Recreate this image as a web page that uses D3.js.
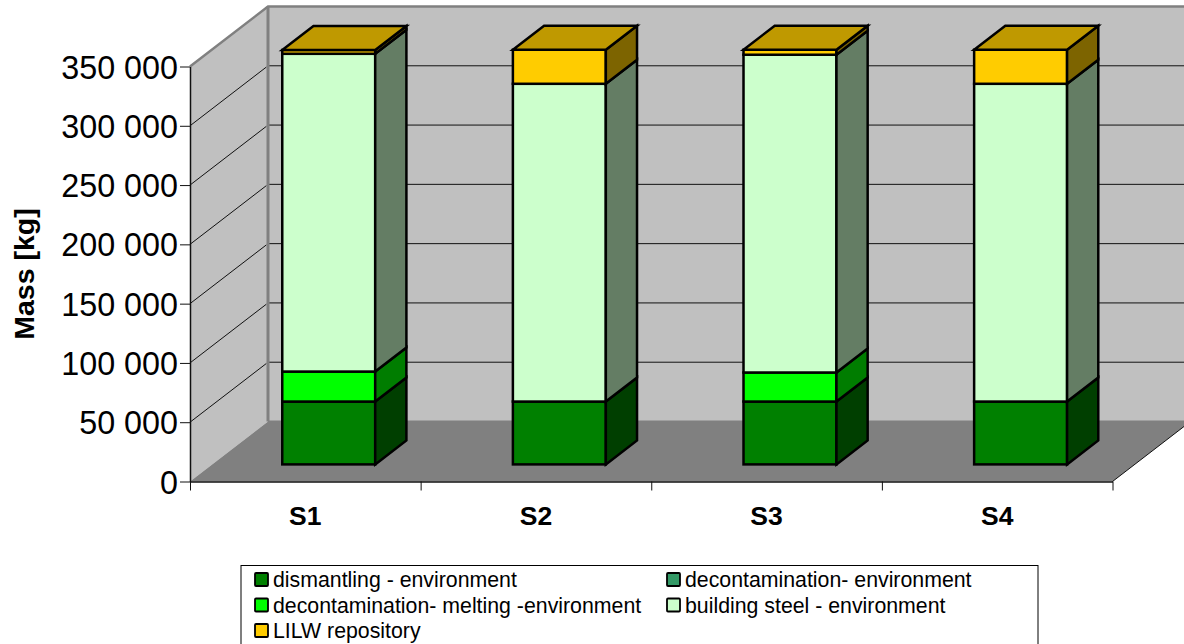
<!DOCTYPE html>
<html>
<head>
<meta charset="utf-8">
<title>Mass by scenario</title>
<script src="https://cdn.jsdelivr.net/npm/d3@7"></script>
<style>
  body { margin: 0; background: #fff; overflow: hidden; }
  svg { display: block; }
  text { font-family: "Liberation Sans", Arial, sans-serif; fill: #000; }
</style>
</head>
<body>
<svg id="chart" width="1184" height="644"></svg>
<script>
// values, in kg
var categories = ["S1", "S2", "S3", "S4"];
var dismantling = [53000, 53000, 53000, 53000];
var decontamination = [0, 0, 0, 0];
var melting = [25300, 0, 24500, 0];
var buildingSteel = [268000, 268000, 268000, 268000];
var lilw = [3200, 28700, 4200, 28700];
var yTicks = [0, 50000, 100000, 150000, 200000, 250000, 300000, 350000];

var seriesNames = [
  "dismantling - environment",
  "decontamination- environment",
  "decontamination- melting -environment",
  "building steel - environment",
  "LILW repository"
];
var seriesColors = ["#008000", "#339966", "#00ff00", "#ccffcc", "#ffcc00"];
var seriesValues = [dismantling, decontamination, melting, buildingSteel, lilw];

var svg = d3.select("#chart");

// plot box of the front plane, and how far the depth goes back
var left = 190, right = 1112.5, bottom = 481.5, top0 = 66.5;
var depthX = 78, depthY = -60;
var barFront = 0.29, barBack = 0.69;   // bar position in the depth of the floor

var x = d3.scaleBand().domain(categories).range([left, right]).paddingInner(0.597).paddingOuter(0.2985);
var xEdges = d3.scaleLinear().domain([0, categories.length]).range([left, right]);
var xLabels = d3.scaleBand().domain(categories).range([left, right]);
var y = d3.scaleLinear().domain([0, 350000]).range([bottom, top0]);

var fmt = d3.formatLocale({ decimal: ".", thousands: " ", grouping: [3], currency: ["", ""] }).format(",");

// move a point of the front plane back by d (0 to 1)
function px(xv, d) { return xv + depthX * d; }
function py(yv, d) { return yv + depthY * d; }

function poly(pts) {
  return pts.map(function(p) { return p[0] + "," + p[1]; }).join(" ");
}

// walls and floor
svg.append("polygon")
  .attr("points", poly([[px(left, 1), py(bottom, 1)], [px(right, 1) + 10, py(bottom, 1)], [px(right, 1) + 10, py(top0, 1)], [px(left, 1), py(top0, 1)]]))
  .attr("fill", "#c0c0c0");
svg.append("polygon")
  .attr("points", poly([[left, bottom], [px(left, 1), py(bottom, 1)], [px(left, 1), py(top0, 1)], [left, top0]]))
  .attr("fill", "#c0c0c0");
svg.append("polygon")
  .attr("points", poly([[left, bottom], [right, bottom], [px(right, 1), py(bottom, 1)], [px(left, 1), py(bottom, 1)]]))
  .attr("fill", "#808080");

// grid lines on the two walls
var grid = yTicks.filter(function(t) { return t > 0 && t < 350000; });
svg.append("g").selectAll("line.back")
  .data(grid).enter().append("line")
  .attr("x1", px(left, 1)).attr("x2", px(right, 1) + 10)
  .attr("y1", function(d) { return py(y(d), 1); })
  .attr("y2", function(d) { return py(y(d), 1); })
  .attr("stroke", "#111").attr("stroke-width", 1);
svg.append("g").selectAll("line.side")
  .data(grid).enter().append("line")
  .attr("x1", left).attr("x2", px(left, 0.98))
  .attr("y1", function(d) { return y(d); })
  .attr("y2", function(d) { return py(y(d), 0.98); })
  .attr("stroke", "#111").attr("stroke-width", 1);

// grey wall outline
var outline = svg.append("g").attr("stroke", "#808080").attr("stroke-width", 2.5).attr("fill", "none");
outline.append("polyline")
  .attr("points", poly([[left, top0], [px(left, 1), py(top0, 1)], [px(right, 1) + 10, py(top0, 1)]]));
outline.append("line")
  .attr("x1", px(left, 1)).attr("x2", px(left, 1))
  .attr("y1", py(top0, 1)).attr("y2", py(bottom, 1)).attr("stroke-width", 3);
outline.append("line")
  .attr("x1", px(left, 1)).attr("x2", px(right, 1) + 10)
  .attr("y1", py(bottom, 1)).attr("y2", py(bottom, 1)).attr("stroke-width", 2);

// floor right edge
svg.append("line")
  .attr("x1", right).attr("y1", bottom)
  .attr("x2", px(right, 1)).attr("y2", py(bottom, 1))
  .attr("stroke", "#111").attr("stroke-width", 1);

// stacked bars
var table = categories.map(function(c, i) {
  var row = { category: c };
  seriesNames.forEach(function(n, s) { row[n] = seriesValues[s][i]; });
  return row;
});
var stacked = d3.stack().keys(seriesNames)(table);

var bars = svg.append("g")
  .attr("transform", "translate(0.8,0.3)")
  .attr("stroke", "#000").attr("stroke-width", 2.5).attr("stroke-linejoin", "miter");
stacked.forEach(function(layer, s) {
  var color = seriesColors[s];
  layer.forEach(function(d) {
    var x0 = px(x(d.data.category), barFront);
    var x1 = px(x(d.data.category) + x.bandwidth(), barFront);
    var yLow = py(y(d[0]), barFront);
    var yHigh = py(y(d[1]), barFront);
    var dx = depthX * (barBack - barFront);
    var dy = depthY * (barBack - barFront);
    if (d[1] === d[0]) return;
    bars.append("rect")
      .attr("x", x0).attr("y", yHigh)
      .attr("width", x1 - x0).attr("height", yLow - yHigh)
      .attr("fill", color);
    // side face is half as bright
    bars.append("polygon")
      .attr("points", poly([[x1, yLow], [x1 + dx, yLow + dy], [x1 + dx, yHigh + dy], [x1, yHigh]]))
      .attr("fill", d3.rgb(color).darker(2));
    // only the top segment shows its lid
    if (s === seriesNames.length - 1) {
      var c = d3.rgb(color);
      bars.append("polygon")
        .attr("points", poly([[x0, yHigh], [x1, yHigh], [x1 + dx, yHigh + dy], [x0 + dx, yHigh + dy]]))
        .attr("fill", d3.rgb(c.r * 0.75, c.g * 0.75, c.b * 0.75));
    }
  });
});

// axes
var yAxis = svg.append("g")
  .attr("transform", "translate(" + left + ",0)")
  .call(d3.axisLeft(y).tickValues(yTicks).tickFormat(fmt).tickSize(10).tickSizeOuter(0));
yAxis.selectAll("text").attr("font-size", 32.3).attr("font-family", "Liberation Sans").attr("x", -12).attr("dy", "0.36em");
yAxis.selectAll("line").attr("stroke", "#111");
yAxis.select(".domain").attr("stroke", "#111").attr("stroke-width", 1.5);

var xAxis = svg.append("g")
  .attr("transform", "translate(0," + bottom + ")")
  .call(d3.axisBottom(xEdges).ticks(categories.length).tickFormat("").tickSize(9).tickSizeOuter(0));
xAxis.selectAll("line").attr("stroke", "#111");
xAxis.select(".domain").attr("stroke", "#111").attr("stroke-width", 1.5);

svg.append("g").selectAll("text")
  .data(categories).enter().append("text")
  .attr("x", function(d) { return xLabels(d) + xLabels.bandwidth() / 2; })
  .attr("y", 525)
  .attr("text-anchor", "middle")
  .attr("font-size", 26.5)
  .attr("font-weight", "bold")
  .text(function(d) { return d; });

svg.append("text")
  .attr("transform", "translate(33.5,274) rotate(-90)")
  .attr("text-anchor", "middle")
  .attr("font-size", 28.5)
  .attr("font-weight", "bold")
  .text("Mass [kg]");

// legend
svg.append("rect")
  .attr("x", 241).attr("y", 565.5).attr("width", 797).attr("height", 90)
  .attr("fill", "#fff").attr("stroke", "#000").attr("stroke-width", 1);

var legend = svg.append("g").selectAll("g")
  .data(seriesNames).enter().append("g")
  .attr("transform", function(d, i) {
    return "translate(" + (i % 2 ? 667 : 255) + "," + (580 + Math.floor(i / 2) * 25.5) + ")";
  });
legend.append("rect")
  .attr("x", 0).attr("y", -7).attr("width", 13).attr("height", 13)
  .attr("rx", 1)
  .attr("fill", function(d, i) { return seriesColors[i]; })
  .attr("stroke", "#000").attr("stroke-width", 1.8);
legend.append("text")
  .attr("x", 18).attr("y", 7)
  .attr("font-size", 21.3)
  .text(function(d) { return d; });
</script>
</body>
</html>
